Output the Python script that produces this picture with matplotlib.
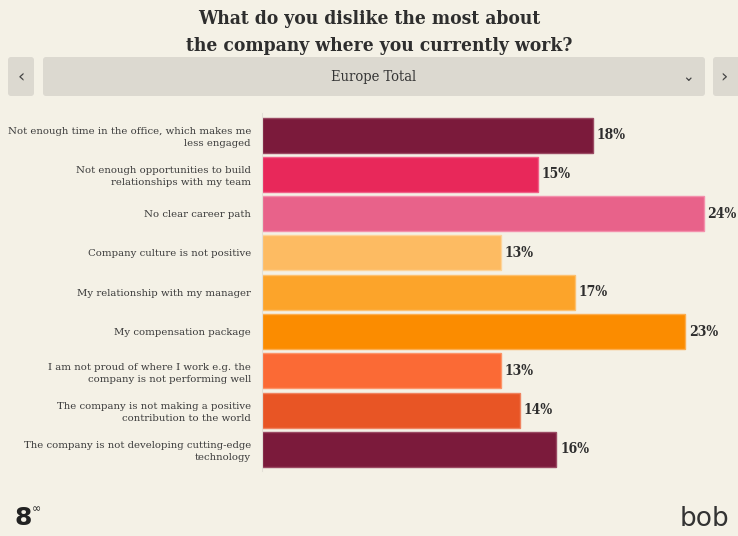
import matplotlib
matplotlib.use("Agg")
import matplotlib.pyplot as plt
from matplotlib.patches import FancyBboxPatch
import numpy as np

categories = [
    "Not enough time in the office, which makes me\nless engaged",
    "Not enough opportunities to build\nrelationships with my team",
    "No clear career path",
    "Company culture is not positive",
    "My relationship with my manager",
    "My compensation package",
    "I am not proud of where I work e.g. the\ncompany is not performing well",
    "The company is not making a positive\ncontribution to the world",
    "The company is not developing cutting-edge\ntechnology",
]
values = [18, 15, 24, 13, 17, 23, 13, 14, 16]
colors = ["#7b1a3b", "#e8285a", "#e8628a", "#fdbb62", "#fca42a",
          "#fb8c00", "#fb6a35", "#e85525", "#7b1a3b"]
edges = ["#9a4a63", "#f06088", "#f390ac", "#fdd49a", "#fdc170",
         "#fcae50", "#fc9468", "#ef8360", "#9a4a63"]

BG = "#f4f1e6"
W, H = 738, 536
serif = "DejaVu Serif"

fig = plt.figure(figsize=(W / 100, H / 100), dpi=100, facecolor=BG)


def px(x0, y0, w, h):
    # pixel box (top-left origin) -> figure fraction
    return [x0 / W, 1 - (y0 + h) / H, w / W, h / H]


# title
fig.text(369 / W, 1 - 19 / H, "What do you dislike the most about",
         ha="center", va="center", fontsize=13.8, fontweight="bold",
         family=serif, color="#2e2e2e", fontstretch="condensed")
fig.text(379 / W, 1 - 46 / H, "the company where you currently work?",
         ha="center", va="center", fontsize=13.8, fontweight="bold",
         family=serif, color="#2e2e2e", fontstretch="condensed")

# selector row
bg_ax = fig.add_axes([0, 0, 1, 1], zorder=0)
bg_ax.set_xlim(0, W); bg_ax.set_ylim(H, 0); bg_ax.axis("off")
for x0, x1 in ((8, 34), (43, 705), (713, 745)):
    bg_ax.add_patch(FancyBboxPatch((x0, 57), x1 - x0, 39,
                                   boxstyle="round,pad=0,rounding_size=3",
                                   fc="#dcd9d0", ec="none"))
bg_ax.text(21, 77, "‹", ha="center", va="center", fontsize=13, color="#444444")
bg_ax.text(724, 77, "›", ha="center", va="center", fontsize=13, color="#444444")
bg_ax.text(688, 77, "⌄", ha="center", va="center", fontsize=10, color="#444444")
bg_ax.text(374, 77, "Europe Total", ha="center", va="center", fontsize=10.5,
           family=serif, color="#333333", fontstretch="condensed")

# footer marks
bg_ax.text(15, 518, "8", ha="left", va="center", fontsize=18, color="#222222",
           family="DejaVu Sans", fontweight="bold")
bg_ax.text(32, 509, "∞", ha="left", va="center", fontsize=8, color="#222222",
           family="DejaVu Sans")
bg_ax.text(729, 519, "bob", ha="right", va="center", fontsize=19,
           color="#333333", family="DejaVu Sans")

# bars
ax = fig.add_axes(px(262, 113.5, 476, 357.5), zorder=1)
ax.set_facecolor("none")
y = np.arange(len(categories))
ax.barh(y, values, height=0.89, color=colors, edgecolor=edges, linewidth=1)
for yi, v in zip(y, values):
    ax.text(v + 0.2, yi, f"{v}%", ha="left", va="center", fontsize=10,
            family=serif, color="#2e2e2e", fontweight="bold",
            fontstretch="condensed")

ax.set_xlim(0, 476 / 18.4)
ax.set_ylim(len(categories) - 0.45, -0.55)
ax.set_yticks(y)
ax.set_yticklabels(categories, fontsize=7.3, family=serif, color="#3a3a3a",
                   linespacing=1.4)
ax.tick_params(axis="y", length=0, pad=8)
ax.set_xticks([])
for s in ("top", "right", "bottom"):
    ax.spines[s].set_visible(False)
ax.spines["left"].set_color("#e2dfd6")
ax.spines["left"].set_linewidth(0.8)

fig.savefig("out.png", dpi=100, facecolor=BG)
